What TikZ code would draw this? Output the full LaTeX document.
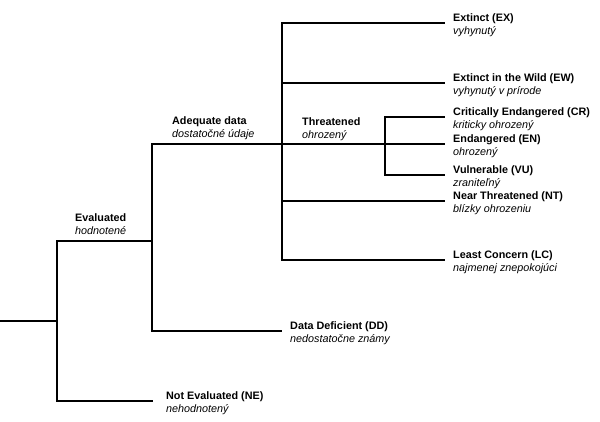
\documentclass[tikz,border=0pt]{standalone}
\usepackage{fontspec}
\setmainfont{Liberation Sans}
\usetikzlibrary{positioning}

\begin{document}
\begin{tikzpicture}[
			x=1pt, y=-1pt,
			every node/.style={
				align=left,
				inner ysep=0pt,
				font=\fontsize{10.8}{13}\selectfont
			},
			leaf/.style={anchor=west, inner xsep=8pt, yshift=-2pt},
			inner/.style={anchor=north west, inner xsep=0pt},
			branch/.style={line width=2.1pt}
			]
			\useasboundingbox (0,0) rectangle (600,422);
			
			% branch points
			\coordinate (root) at (0,321);
			\coordinate (all) at (57,321);
			\coordinate (ev) at (152,241);
			\coordinate (adq) at (282,144);
			\coordinate (thr) at (385,144);
			
			% inner labels
			\node[inner] (evlab) at (75,213) {\textbf{Evaluated}\\\textit{hodnotené}};
			\node[inner] (adqlab) at (172,116) {\textbf{Adequate data}\\\textit{dostatočné údaje}};
			\node[inner] (thrlab) at (302,117) {\textbf{Threatened}\\\textit{ohrozený}};
			
			% categories
			\node[leaf] (ex) at (445,23) {\textbf{Extinct (EX)}\\\textit{vyhynutý}};
			\node[leaf] (ew) at (445,83) {\textbf{Extinct in the Wild (EW)}\\\textit{vyhynutý v prírode}};
			\node[leaf] (cr) at (445,117) {\textbf{Critically Endangered (CR)}\\\textit{kriticky ohrozený}};
			\node[leaf] (en) at (445,144) {\textbf{Endangered (EN)}\\\textit{ohrozený}};
			\node[leaf] (vu) at (445,175) {\textbf{Vulnerable (VU)}\\\textit{zraniteľný}};
			\node[leaf] (nt) at (445,201) {\textbf{Near Threatened (NT)}\\\textit{blízky ohrozeniu}};
			\node[leaf] (lc) at (445,260) {\textbf{Least Concern (LC)}\\\textit{najmenej znepokojúci}};
			\node[leaf] (dd) at (282,331) {\textbf{Data Deficient (DD)}\\\textit{nedostatočne známy}};
			\node[leaf, inner xsep=13pt] (ne) at (153,401) {\textbf{Not Evaluated (NE)}\\\textit{nehodnotený}};
			
			\draw[branch] (root) -- (all);
			\draw[branch] (all) |- (ev);
			\draw[branch] (all) |- ([yshift=2pt]ne.west);
			\draw[branch] (ev) |- (adq);
			\draw[branch] (ev) |- ([yshift=2pt]dd.west);
			\draw[branch] (adq) |- ([yshift=2pt]ex.west);
			\draw[branch] (adq) |- ([yshift=2pt]ew.west);
			\draw[branch] (adq) -- (thr);
			\draw[branch] (adq) |- ([yshift=2pt]nt.west);
			\draw[branch] (adq) |- ([yshift=2pt]lc.west);
			\draw[branch] (thr) |- ([yshift=2pt]cr.west);
			\draw[branch] (thr) |- ([yshift=2pt]en.west);
			\draw[branch] (thr) |- ([yshift=2pt]vu.west);
			
		\end{tikzpicture}
\end{document}
